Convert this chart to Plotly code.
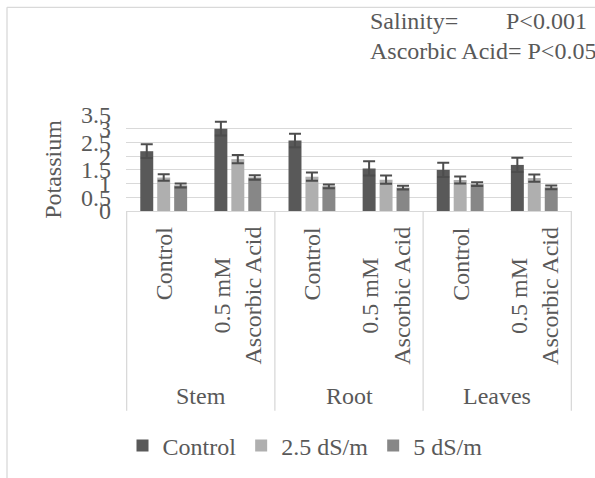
import plotly.graph_objects as go

organs = ["Stem", "Root", "Leaves"]
treatments = ["Control", "0.5 mM<br>Ascorbic Acid"]
series_names = ["Control", "2.5 dS/m", "5 dS/m"]

control_vals = [2.18, 3.00, 2.57, 1.55, 1.50, 1.68]
ds25_vals = [1.22, 1.89, 1.25, 1.14, 1.13, 1.20]
ds5_vals = [0.93, 1.22, 0.90, 0.85, 0.98, 0.86]

control_err = [0.25, 0.25, 0.25, 0.26, 0.26, 0.26]
ds25_err = [0.12, 0.15, 0.15, 0.15, 0.13, 0.13]
ds5_err = [0.07, 0.08, 0.07, 0.07, 0.07, 0.07]

colors = ["#595959", "#afafaf", "#878787"]
FONT = "Liberation Serif"
TXT = "#595959"
GRID = "#d9d9d9"

# plot area in pixels
L, R, T, B = 126, 572, 115, 211.3
W, H = 595, 478


def px_x(p):
    return (p - L) / (R - L)


def px_y(p):
    return (B - p) / (B - T)


cats = [o + " " + t for o in organs for t in treatments]

fig = go.Figure()
for name, vals, errs, col in zip(series_names,
                                 [control_vals, ds25_vals, ds5_vals],
                                 [control_err, ds25_err, ds5_err], colors):
    fig.add_trace(go.Bar(
        x=cats, y=vals, name=name,
        marker=dict(color=col, line=dict(width=0)),
        error_y=dict(type="data", array=errs, color="#4d4d4d",
                     thickness=2, width=6),
    ))

fig.update_layout(
    width=W, height=H,
    margin=dict(l=L, r=W - R, t=T, b=H - B),
    paper_bgcolor="white", plot_bgcolor="white",
    barmode="group", bargap=0.314, bargroupgap=0.235,
    font=dict(family=FONT, size=24, color=TXT),
    showlegend=True,
    legend=dict(orientation="h", xref="container", x=305 / W, xanchor="center",
                yref="container", y=1 - 446 / H, yanchor="middle",
                font=dict(family=FONT, size=24, color=TXT),
                itemwidth=30, bgcolor="rgba(0,0,0,0)"),
)

fig.update_yaxes(range=[0, 3.5], dtick=0.5, showgrid=True, gridcolor=GRID,
                 gridwidth=1.3, zeroline=False, showline=False,
                 tickfont=dict(family=FONT, size=24, color=TXT),
                 ticklabelstandoff=14)
fig.update_xaxes(showticklabels=False, showline=True, linecolor=GRID,
                 linewidth=1.3, showgrid=False, ticks="")

# category box lines
for xv in [-0.5, 1.5, 3.5, 5.5]:
    fig.add_shape(type="line", xref="x", yref="paper", x0=xv, x1=xv,
                  y0=0, y1=px_y(411.7), line=dict(color=GRID, width=1.3))

# chart frame (left & top)
fig.add_shape(type="line", xref="paper", yref="paper",
              x0=px_x(7), x1=px_x(7), y0=px_y(7), y1=px_y(490),
              line=dict(color=GRID, width=1.3))
fig.add_shape(type="line", xref="paper", yref="paper",
              x0=px_x(7), x1=px_x(610), y0=px_y(7), y1=px_y(7),
              line=dict(color=GRID, width=1.3))

# subcategory labels
for i, c in enumerate(cats):
    t = treatments[i % 2]
    fig.add_annotation(x=i, xref="x", y=px_y(226), yref="paper",
                       text=t, textangle=-90, showarrow=False,
                       xanchor="center", yanchor="top", align="center",
                       borderpad=0, font=dict(size=24, color=TXT, family=FONT))

# group labels
for j, o in enumerate(organs):
    fig.add_annotation(x=2 * j + 0.5, xref="x", y=px_y(397), yref="paper",
                       text=o, showarrow=False, xanchor="center",
                       yanchor="middle", font=dict(size=24, color=TXT, family=FONT))

# axis title
fig.add_annotation(x=px_x(53), xref="paper", y=px_y(170), yref="paper",
                   text="Potassium", textangle=-90, showarrow=False,
                   xanchor="center", yanchor="middle",
                   font=dict(size=24, color=TXT, family=FONT))

# significance text
fig.add_annotation(x=px_x(368), xref="paper", y=px_y(21), yref="paper",
                   text="Salinity=", showarrow=False, xanchor="left",
                   yanchor="middle", font=dict(size=24, color=TXT, family=FONT))
fig.add_annotation(x=px_x(589), xref="paper", y=px_y(21), yref="paper",
                   text="P<0.001", showarrow=False, xanchor="right",
                   yanchor="middle", font=dict(size=24, color=TXT, family=FONT))
fig.add_annotation(x=px_x(368), xref="paper", y=px_y(51), yref="paper",
                   text="Ascorbic Acid= P<0.05", showarrow=False, xanchor="left",
                   yanchor="middle", font=dict(size=24, color=TXT, family=FONT))

fig.write_html("out.html", config={"displayModeBar": False},
               post_script="document.body.style.margin='0';")
